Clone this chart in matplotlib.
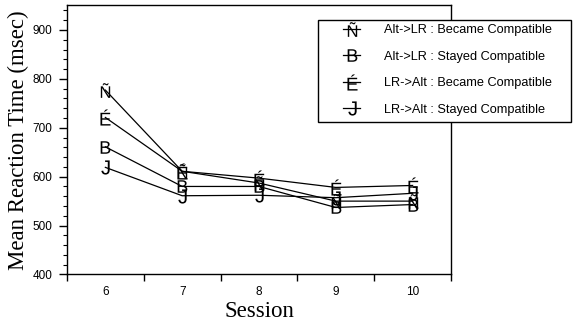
import matplotlib
matplotlib.use("Agg")
import matplotlib.pyplot as plt
from matplotlib.legend_handler import HandlerLine2D
from matplotlib.patches import Rectangle
from matplotlib.ticker import MultipleLocator

plt.rcParams['font.family'] = ['Liberation Sans', 'DejaVu Sans']
plt.rcParams['mathtext.fontset'] = 'custom'
plt.rcParams['mathtext.rm'] = 'Liberation Sans'
plt.rcParams['mathtext.default'] = 'rm'

sessions = ["6", "7", "8", "9", "10"]
alt_lr_became = [777, 611, 587, 550, 550]
alt_lr_stayed = [661, 580, 580, 537, 543]
lr_alt_became = [721, 611, 597, 578, 582]
lr_alt_stayed = [619, 561, 562, 557, 566]

series = [alt_lr_became, alt_lr_stayed, lr_alt_became, lr_alt_stayed]
series_labels = ["Alt->LR : Became Compatible",
                 "Alt->LR : Stayed Compatible",
                 "LR->Alt : Became Compatible",
                 "LR->Alt : Stayed Compatible"]
symbols = ["Ñ", "B", "É", "J"]
symbol_sizes = [10.6, 9.0, 11.6, 10.2]

fig = plt.figure(figsize=(5.73, 3.21), dpi=100)
ax = fig.add_axes([0.1169, 0.1449, 0.6702, 0.8380])

x = range(len(sessions))
lines = []
for values, sym, ms, lab in zip(series, symbols, symbol_sizes, series_labels):
    ln, = ax.plot(x, values, color="black", lw=0.9,
                  marker="$" + sym + "$", markersize=ms,
                  mfc="black", mec="black", mew=0, label=lab)
    lines.append(ln)

ax.set_xlim(-0.5, len(sessions) - 0.5)
ax.set_ylim(400, 950)

# category boundaries get the tick marks, centres get the labels
ax.set_xticks([i - 0.5 for i in range(len(sessions) + 1)])
ax.set_xticklabels([])
ax.set_xticks(list(x), minor=True)
ax.set_xticklabels(sessions, minor=True)
ax.tick_params(axis="x", which="major", direction="out", length=5, width=1)
ax.tick_params(axis="x", which="minor", length=0, pad=8, labelsize=8.5)

ax.yaxis.set_major_locator(MultipleLocator(100))
ax.yaxis.set_minor_locator(MultipleLocator(20))
ax.tick_params(axis="y", which="major", direction="out", length=5.5, width=1,
               labelsize=8.5, pad=5)
ax.tick_params(axis="y", which="minor", direction="out", length=3, width=0.8)

for sp in ax.spines.values():
    sp.set_linewidth(1)

ax.set_ylabel("Mean Reaction Time (msec)", family="Liberation Serif", fontsize=16.5)
ax.yaxis.set_label_coords(-0.10, 0.5)
ax.set_xlabel("Session", family="Liberation Serif", fontsize=16.5)
ax.xaxis.set_label_coords(0.5, -0.10)

# legend box sits over the right edge of the axes
fig.patches.append(Rectangle((0.555, 0.62), 0.4415, 0.3178, transform=fig.transFigure,
                             facecolor="white", edgecolor="black", lw=1, zorder=3))
fs = 9.2
fig.legend(handles=lines, loc="upper left", bbox_to_anchor=(0.555, 0.94),
           bbox_transform=fig.transFigure, frameon=False, fontsize=fs,
           borderpad=0.4, borderaxespad=0, handlelength=2.89, handletextpad=1.88,
           labelspacing=1.13,
           handler_map={ln: HandlerLine2D(xpad=1.56) for ln in lines}).set_zorder(5)

fig.savefig("out.png", dpi=100)
